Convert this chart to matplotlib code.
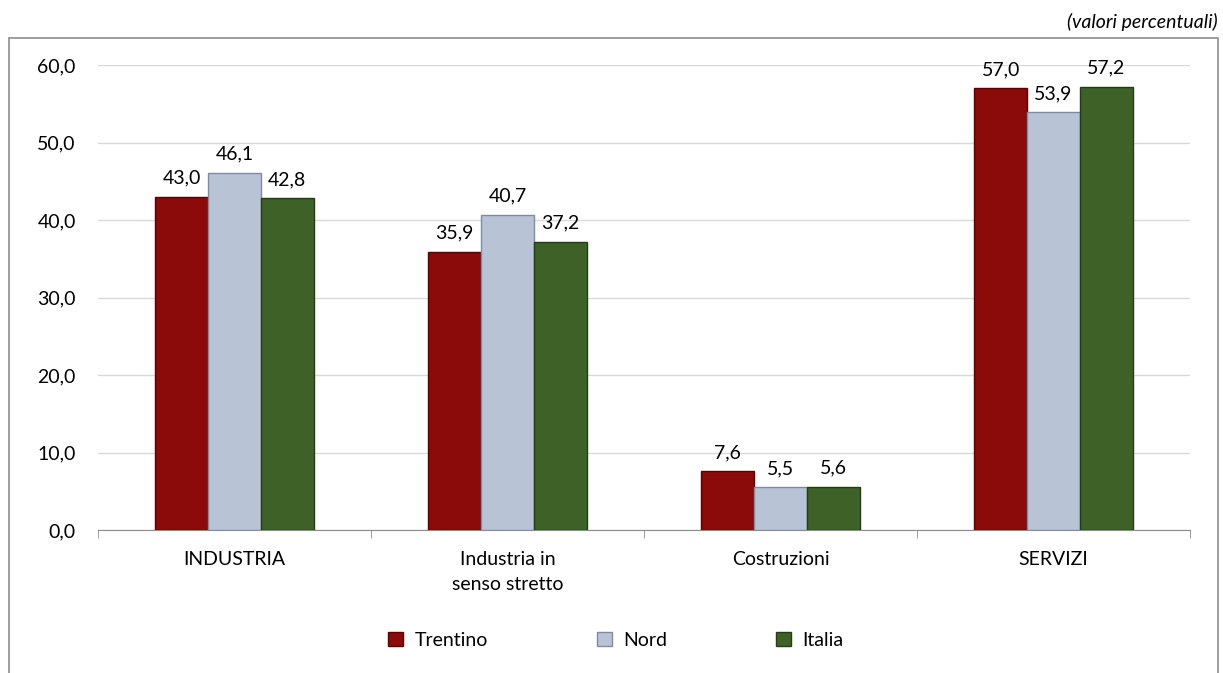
import matplotlib.pyplot as plt
import matplotlib.patches as patches
import numpy as np

categories = ["INDUSTRIA", "Industria in\nsenso stretto", "Costruzioni", "SERVIZI"]
trentino = [43.0, 35.9, 7.6, 57.0]
nord = [46.1, 40.7, 5.5, 53.9]
italia = [42.8, 37.2, 5.6, 57.2]
series_names = ["Trentino", "Nord", "Italia"]
yticks = [0, 10, 20, 30, 40, 50, 60]

plt.rcParams['font.family'] = ['Lato', 'DejaVu Sans']
fs = 14

fig = plt.figure(figsize=(12.23, 6.73), dpi=100)
W, H = 1223, 673

# outer frame of the chart
frame = patches.Rectangle((9 / W, -0.05), (1218 - 9) / W, 1 - 38 / H + 0.05,
                          transform=fig.transFigure, fill=False,
                          edgecolor='#8c8c8c', linewidth=1.2)
fig.patches.append(frame)
fig.text(1218 / W, 1 - 22 / H, "(valori percentuali)", ha='right', va='center',
         fontsize=fs, style='italic')

ax = fig.add_axes([98 / W, 1 - 530 / H, (1190 - 98) / W, (530 - 65) / H])

x = np.arange(len(categories))
w = 0.193
colors = ['#8B0A0A', '#B8C4D6', '#3E6128']
edges = ['#5c0000', '#7f8ba0', '#253d17']
data = [trentino, nord, italia]
for i, (vals, name) in enumerate(zip(data, series_names)):
    bars = ax.bar(x + (i - 1) * w, vals, w, color=colors[i], edgecolor=edges[i],
                  linewidth=1, label=name, zorder=3)
    for b, v in zip(bars, vals):
        ax.text(b.get_x() + b.get_width() / 2, v + 1.3, f"{v:.1f}".replace('.', ','),
                ha='center', va='bottom', fontsize=fs)

ax.set_xlim(-0.5, len(categories) - 0.5)
ax.set_ylim(0, 60)
ax.set_yticks(yticks)
ax.set_yticklabels([f"{t:.1f}".replace('.', ',') for t in yticks], fontsize=fs)
ax.tick_params(axis='y', length=0, pad=16)
ax.yaxis.grid(True, color='#d9d9d9', linewidth=1, zorder=0)
ax.set_axisbelow(True)

ax.set_xticks(x)
ax.set_xticklabels(categories, fontsize=fs, linespacing=1.55)
ax.tick_params(axis='x', length=0, pad=15)
ax.set_xticks(np.arange(len(categories) + 1) - 0.5, minor=True)
ax.tick_params(axis='x', which='minor', length=6, color='#8c8c8c')

for s in ['top', 'right', 'left']:
    ax.spines[s].set_visible(False)
ax.spines['bottom'].set_color('#8c8c8c')

leg = fig.legend(loc='center', bbox_to_anchor=(616 / W, 1 - 640 / H), ncol=3,
                 frameon=False, fontsize=fs, columnspacing=5.6, handlelength=0.75,
                 handleheight=0.75, handletextpad=0.6)

fig.savefig("out.png", dpi=100)
